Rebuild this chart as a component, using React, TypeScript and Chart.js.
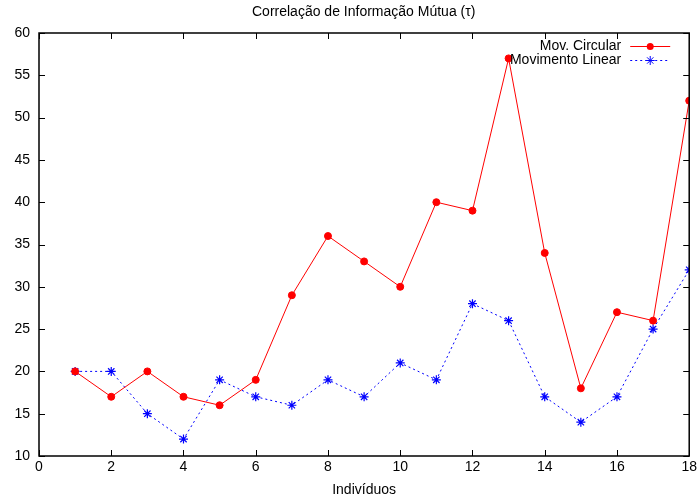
import { useEffect, useRef } from "react";
import { Chart, registerables } from "chart.js";

Chart.register(...registerables);

const individuals = [1, 2, 3, 4, 5, 6, 7, 8, 9, 10, 11, 12, 13, 14, 15, 16, 17, 18];
const movCircular = [20, 17, 20, 17, 16, 19, 29, 36, 33, 30, 40, 39, 57, 34, 18, 27, 26, 52];
const movLinear = [20, 20, 15, 12, 19, 17, 16, 19, 17, 21, 19, 28, 26, 17, 14, 17, 25, 32];
const seriesLabels = ["Mov. Circular", "Movimento Linear"];
const chartTitle = "Correlação de Informação Mútua (τ)";
const xTitle = "Indivíduos";

const FONT = "Liberation Sans, Arial, sans-serif";
const FS = 14;

function drawMarker(ctx: CanvasRenderingContext2D, style: string, r: number, x: number, y: number, color: string) {
  ctx.save();
  ctx.fillStyle = color;
  ctx.strokeStyle = color;
  ctx.lineWidth = 1;
  ctx.setLineDash([]);
  ctx.beginPath();
  if (style === "circle") {
    ctx.arc(x, y, r, 0, Math.PI * 2);
    ctx.fill();
  } else {
    const d = r * Math.SQRT1_2;
    ctx.moveTo(x - r, y);
    ctx.lineTo(x + r, y);
    ctx.moveTo(x, y - r);
    ctx.lineTo(x, y + r);
    ctx.moveTo(x - d, y - d);
    ctx.lineTo(x + d, y + d);
    ctx.moveTo(x - d, y + d);
    ctx.lineTo(x + d, y - d);
    ctx.stroke();
  }
  ctx.restore();
}

const framePlugin = {
  id: "frameTicks",
  afterDatasetsDraw(chart: any) {
    const { ctx, chartArea: a, scales } = chart;
    ctx.save();
    ctx.strokeStyle = "#000";
    ctx.lineWidth = 1;
    const tl = 6;
    ctx.beginPath();
    scales.x.ticks.forEach((t: any) => {
      const px = Math.round(scales.x.getPixelForValue(t.value)) + 0.5;
      ctx.moveTo(px, a.bottom);
      ctx.lineTo(px, a.bottom - tl);
      ctx.moveTo(px, a.top);
      ctx.lineTo(px, a.top + tl);
    });
    scales.y.ticks.forEach((t: any) => {
      const py = Math.round(scales.y.getPixelForValue(t.value)) + 0.5;
      ctx.moveTo(a.left, py);
      ctx.lineTo(a.left + tl, py);
      ctx.moveTo(a.right, py);
      ctx.lineTo(a.right - tl, py);
    });
    ctx.stroke();
    ctx.lineWidth = 1.5;
    ctx.strokeRect(a.left, a.top, a.right - a.left, a.bottom - a.top);

    // title
    ctx.fillStyle = "#000";
    ctx.font = `${FS}px ${FONT}`;
    ctx.textAlign = "left";
    ctx.textBaseline = "middle";
    ctx.fillText(chartTitle, 252, 12);

    // legend
    const ds = chart.data.datasets;
    const textRight = a.right - 68;
    const lineX0 = a.right - 59;
    const lineX1 = a.right - 19;
    ds.forEach((d: any, i: number) => {
      const y = a.top + 13 + i * 14;
      ctx.fillStyle = "#000";
      ctx.textAlign = "right";
      ctx.fillText(d.label, textRight, y);
      ctx.save();
      ctx.strokeStyle = d.borderColor;
      ctx.lineWidth = d.borderWidth;
      ctx.setLineDash(d.borderDash || []);
      ctx.beginPath();
      ctx.moveTo(lineX0, y + 0.5);
      ctx.lineTo(lineX1, y + 0.5);
      ctx.stroke();
      ctx.restore();
      drawMarker(ctx, d.pointStyle, d.pointRadius, (lineX0 + lineX1) / 2, y + 0.5, d.pointBackgroundColor);
    });
    ctx.restore();
  },
};

export default function App() {
  const ref = useRef<HTMLCanvasElement>(null);
  useEffect(() => {
    if (!ref.current) return;
    const chart = new Chart(ref.current, {
      type: "line",
      data: {
        datasets: [
          {
            label: seriesLabels[0],
            data: individuals.map((x, i) => ({ x, y: movCircular[i] })),
            borderColor: "#ff0000",
            backgroundColor: "#ff0000",
            pointBackgroundColor: "#ff0000",
            pointBorderColor: "#ff0000",
            borderWidth: 1,
            pointStyle: "circle",
            pointRadius: 3.5,
            tension: 0,
          } as any,
          {
            label: seriesLabels[1],
            data: individuals.map((x, i) => ({ x, y: movLinear[i] })),
            borderColor: "#0000ff",
            backgroundColor: "#0000ff",
            pointBackgroundColor: "#0000ff",
            pointBorderColor: "#0000ff",
            borderWidth: 1,
            borderDash: [2, 3],
            pointStyle: "star",
            pointRadius: 4.5,
            pointBorderWidth: 1.2,
            tension: 0,
          } as any,
        ],
      },
      options: {
        responsive: false,
        animation: false,
        layout: { padding: { top: 33, right: 8, left: 0, bottom: 0 } },
        plugins: { legend: { display: false }, title: { display: false }, tooltip: { enabled: false } },
        scales: {
          x: {
            type: "linear",
            min: 0,
            max: 18,
            ticks: { stepSize: 2, color: "#000", font: { size: FS, family: FONT }, padding: 3 },
            grid: { drawOnChartArea: false, drawTicks: false, display: true },
            border: { display: false },
            title: { display: true, text: xTitle, color: "#000", font: { size: FS, family: FONT }, padding: { top: 0, bottom: 2 } },
            afterFit: (s: any) => { s.height = 45; },
          },
          y: {
            type: "linear",
            min: 10,
            max: 60,
            ticks: { stepSize: 5, color: "#000", font: { size: FS, family: FONT }, padding: 9 },
            grid: { drawOnChartArea: false, drawTicks: false, display: true },
            border: { display: false },
            afterFit: (s: any) => { s.width = 39; },
          },
        },
      } as any,
      plugins: [framePlugin],
    });
    return () => chart.destroy();
  }, []);
  return (
    <div style={{ position: "absolute", left: 0, top: 0, width: 700, height: 501, background: "#fff" }}>
      <canvas ref={ref} width={700} height={501} />
    </div>
  );
}
